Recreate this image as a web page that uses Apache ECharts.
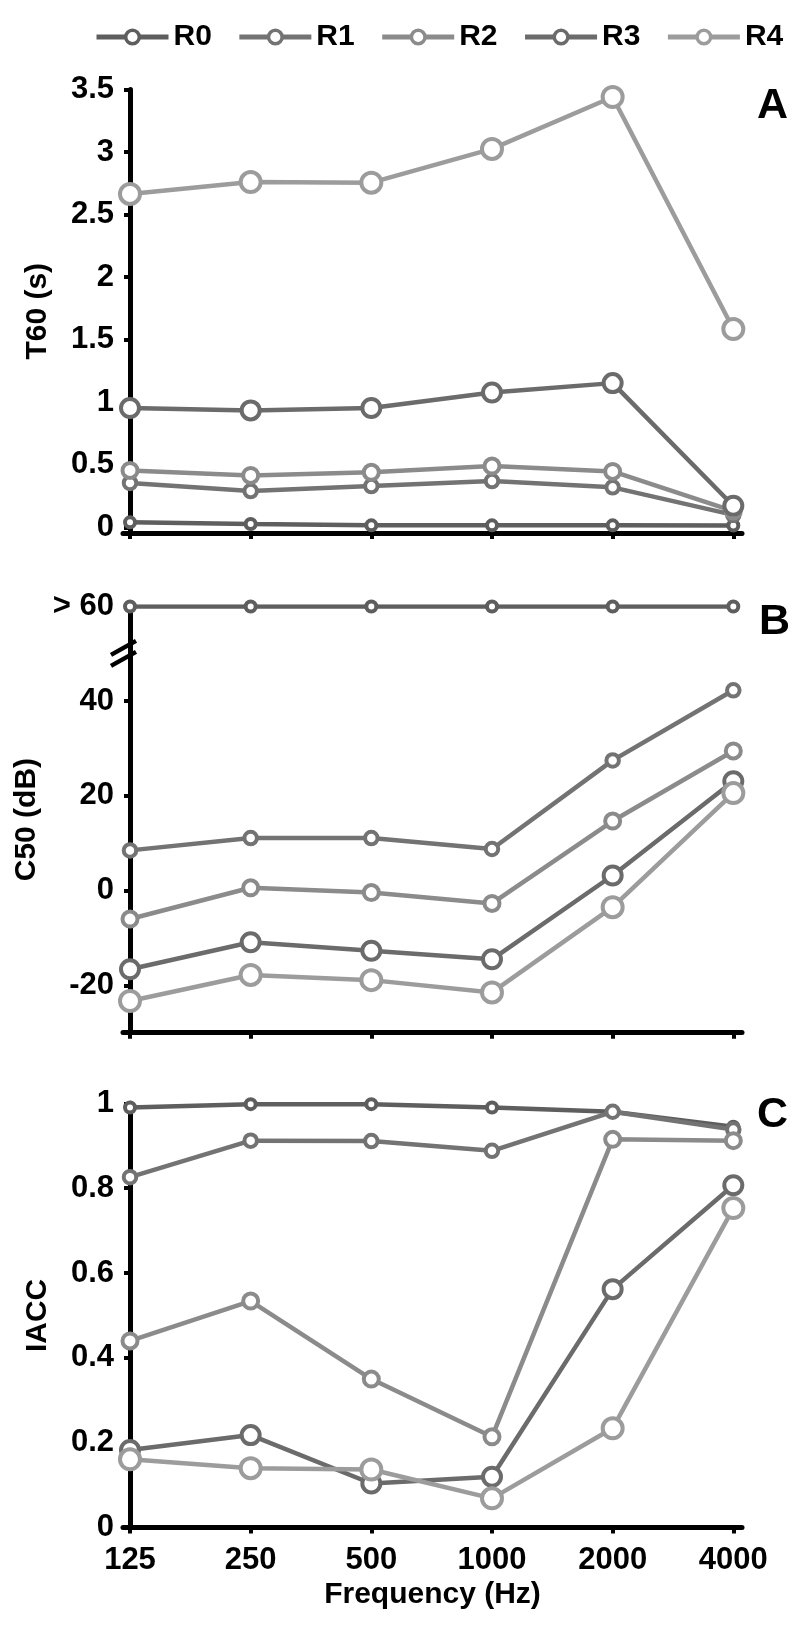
<!DOCTYPE html>
<html>
<head>
<meta charset="utf-8">
<script src="https://cdn.jsdelivr.net/npm/echarts@6/dist/echarts.min.js"></script>
<style>
html, body { margin: 0; padding: 0; background: #fff; }
#chart { width: 810px; height: 1635px; }
</style>
</head>
<body>
<div id="chart"></div>
<script>
// frequency bands (x categories)
const freqs = ["125", "250", "500", "1000", "2000", "4000"];
const names = ["R0", "R1", "R2", "R3", "R4"];

// panel A: T60 (s)
const t60R0 = [0.04, 0.027, 0.016, 0.016, 0.016, 0.015];
const t60R1 = [0.355, 0.29, 0.33, 0.37, 0.32, 0.10];
const t60R2 = [0.455, 0.415, 0.44, 0.49, 0.447, 0.13];
const t60R3 = [0.954, 0.935, 0.954, 1.078, 1.153, 0.173];
const t60R4 = [2.665, 2.76, 2.755, 3.025, 3.44, 1.585];

// panel B: C50 (dB), R0 plotted at the ">60" position
const c50R0 = [60, 60, 60, 60, 60, 60];
const c50R1 = [8.5, 11.1, 11.1, 8.8, 27.5, 42.3];
const c50R2 = [-6.0, 0.6, -0.4, -2.7, 14.7, 29.5];
const c50R3 = [-16.6, -10.9, -12.7, -14.5, 3.2, 23.1];
const c50R4 = [-23.3, -17.8, -18.9, -21.5, -3.5, 20.6];

// panel C: IACC
const iaccR0 = [0.99, 0.998, 0.998, 0.99, 0.98, 0.945];
const iaccR1 = [0.826, 0.912, 0.911, 0.888, 0.98, 0.938];
const iaccR2 = [0.44, 0.534, 0.35, 0.214, 0.915, 0.912];
const iaccR3 = [0.183, 0.218, 0.104, 0.12, 0.562, 0.807];
const iaccR4 = [0.161, 0.14, 0.137, 0.069, 0.234, 0.753];

// tick labels
const t60Ticks = [0, 0.5, 1, 1.5, 2, 2.5, 3, 3.5];
const c50Ticks = [-20, 0, 20, 40, 60];
const iaccTicks = [0, 0.2, 0.4, 0.6, 0.8, 1];

const panels = [
    {name: "T60 (s)", min: -0.045, max: 3.5, ticks: t60Ticks, data: [t60R0, t60R1, t60R2, t60R3, t60R4]},
    {name: "C50 (dB)", min: -30, max: 60, ticks: c50Ticks, data: [c50R0, c50R1, c50R2, c50R3, c50R4]},
    {name: "IACC", min: 0, max: 1, ticks: iaccTicks, data: [iaccR0, iaccR1, iaccR2, iaccR3, iaccR4]}
];

const colors = ["#5e5e5e", "#737373", "#8b8b8b", "#6b6b6b", "#9c9c9c"];
const symbolSizes = [10, 12.5, 15, 18, 20];
const font = "'Liberation Sans', Arial, sans-serif";
const xIdx = freqs.map((f, i) => i);
const xMin = -0.058, xMax = 5.072;

const grids = [
    {left: 123, right: 68, top: 89.5, height: 443.5},
    {left: 123, right: 68, top: 606.5, height: 426.2},
    {left: 123, right: 68, top: 1103.3, height: 424.3}
];

const labelStyle = {fontSize: 31, fontWeight: "bold", color: "#000", fontFamily: font};

const xAxes = panels.map((p, g) => ({
    type: "value",
    gridIndex: g,
    min: xMin,
    max: xMax,
    axisLine: {show: true, onZero: false, lineStyle: {color: "#000", width: 5}},
    axisTick: {show: true, customValues: xIdx, length: 6, lineStyle: {color: "#000", width: 4}},
    axisLabel: Object.assign({
        show: g === 2,
        customValues: xIdx,
        formatter: v => freqs[Math.round(v)],
        margin: 17
    }, labelStyle),
    splitLine: {show: false},
    name: g === 2 ? "Frequency (Hz)" : "",
    nameLocation: "middle",
    nameGap: 52,
    nameTextStyle: {fontSize: 30, fontWeight: "bold", color: "#000", fontFamily: font}
}));

const yAxes = panels.map((p, g) => ({
    type: "value",
    gridIndex: g,
    min: p.min,
    max: p.max,
    axisLine: {show: true, lineStyle: {color: "#000", width: 5}},
    axisTick: {show: true, customValues: p.ticks, length: 6, lineStyle: {color: "#000", width: 4}},
    axisLabel: Object.assign({
        customValues: p.ticks,
        formatter: v => (g === 1 && v === 60) ? "> 60" : String(v),
        margin: 9
    }, labelStyle),
    splitLine: {show: false},
    name: p.name,
    nameLocation: "middle",
    nameGap: 70,
    nameTextStyle: {fontSize: 30, fontWeight: "bold", color: "#000", fontFamily: font}
}));

const series = [];
panels.forEach((p, g) => {
    p.data.forEach((vals, k) => {
        series.push({
            name: names[k],
            type: "line",
            xAxisIndex: g,
            yAxisIndex: g,
            data: vals.map((v, i) => [xIdx[i], v]),
            symbol: "circle",
            symbolSize: symbolSizes[k],
            showAllSymbol: true,
            color: colors[k],
            lineStyle: {color: colors[k], width: 4.5},
            itemStyle: {color: "#fff", borderColor: colors[k], borderWidth: 4},
            emphasis: {disabled: true}
        });
    });
});

const letterStyle = {fontSize: 43, fontWeight: "bold", color: "#000", fontFamily: font};

const myChart = echarts.init(document.getElementById("chart"));
myChart.setOption({
    animation: false,
    backgroundColor: "#fff",
    title: [
        {text: "A", left: 757, top: 85, padding: 0, textStyle: letterStyle},
        {text: "B", left: 759, top: 601, padding: 0, textStyle: letterStyle},
        {text: "C", left: 757, top: 1094, padding: 0, textStyle: letterStyle}
    ],
    legend: {
        data: names,
        left: 94,
        top: 22,
        width: 716,
        padding: 0,
        itemWidth: 72,
        itemHeight: 17,
        itemGap: 25,
        lineStyle: {width: 5},
        itemStyle: {borderWidth: 3.5},
        textStyle: {fontSize: 30, fontWeight: "bold", color: "#000", fontFamily: font}
    },
    grid: grids,
    xAxis: xAxes,
    yAxis: yAxes,
    series: series
});

// axis break mark "//" on panel B's y axis
const bp = myChart.convertToPixel({xAxisIndex: 1, yAxisIndex: 1}, [xMin, 50]);
myChart.setOption({
    graphic: [
        {type: "rect", shape: {x: bp[0] - 5, y: bp[1] - 13, width: 10, height: 25}, style: {fill: "#fff"}, z: 100},
        {type: "line", shape: {x1: bp[0] - 12, y1: bp[1] + 1, x2: bp[0] + 13, y2: bp[1] - 13}, style: {stroke: "#000", lineWidth: 4.5}, z: 101},
        {type: "line", shape: {x1: bp[0] - 12, y1: bp[1] + 12, x2: bp[0] + 13, y2: bp[1] - 2}, style: {stroke: "#000", lineWidth: 4.5}, z: 101}
    ]
});
</script>
</body>
</html>
